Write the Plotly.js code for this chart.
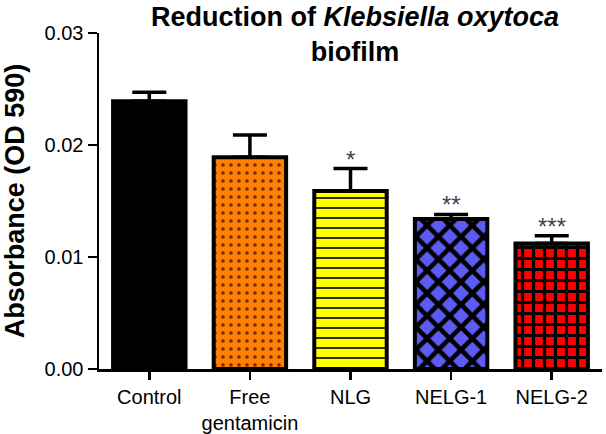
<!DOCTYPE html>
<html>
<head>
<meta charset="utf-8">
<script src="https://cdn.plot.ly/plotly-3.0.1.min.js"></script>
<style>html,body{margin:0;padding:0;background:#fff}#chart{width:606px;height:434px}</style>
</head>
<body>
<div id="chart"></div>
<script>
const categories = ["Control", "Free<br>gentamicin", "NLG", "NELG-1", "NELG-2"];
const absorbance = [0.0239, 0.0189, 0.0159, 0.0134, 0.0112];
const errorUp = [0.0008, 0.0020, 0.0020, 0.0004, 0.0007];
const significance = ["", "", "*", "**", "***"];
const yTicks = [0, 0.01, 0.02, 0.03];
const yTickLabels = ["0.00", "0.01", "0.02", "0.03"];

const fillColors = ["#000000", "#ff8000", "#ffff00", "#5c5cf5", "#ff0000"];
const patternShapes = ["", ".", "-", "x", "+"];
const patternFg = ["#000000", "#6b2a00", "#000000", "#000000", "#000000"];
const patternSize = [8, 8, 10, 16, 11];
const patternSolidity = [0.3, 0.16, 0.16, 0.5, 0.5];

const font = "Liberation Sans, Arial, Helvetica, sans-serif";

const traces = categories.map((c, i) => ({
  type: "bar",
  x: [c],
  y: [absorbance[i]],
  width: 0.72,
  marker: {
    color: fillColors[i],
    line: {color: "#000", width: 4},
    pattern: {
      shape: patternShapes[i],
      fgcolor: patternFg[i],
      fgopacity: 1,
      fillmode: "overlay",
      size: patternSize[i],
      solidity: patternSolidity[i]
    }
  },
  error_y: {
    type: "data",
    symmetric: false,
    array: [errorUp[i]],
    arrayminus: [0],
    color: "#000",
    thickness: 3.5,
    width: 17
  },
  hoverinfo: "skip"
}));

const annotations = significance.map((s, i) => ({
  x: categories[i],
  y: absorbance[i] + errorUp[i],
  xref: "x", yref: "y",
  text: s,
  showarrow: false,
  yanchor: "bottom",
  yshift: -6,
  font: {family: font, size: 24, color: "#444"}
})).filter(a => a.text);

annotations.push({
  text: "<b>Reduction of <i>Klebsiella oxytoca</i><br>biofilm</b>",
  xref: "paper", yref: "paper",
  x: (355 - 99) / 503, y: 1 + 33 / 336,
  xanchor: "center", yanchor: "top",
  showarrow: false,
  font: {family: font, size: 27, color: "#000"}
});

const layout = {
  width: 606, height: 434,
  margin: {l: 99, r: 4, t: 33, b: 65},
  paper_bgcolor: "#fff", plot_bgcolor: "#fff",
  showlegend: false,
  barmode: "overlay",
  font: {family: font, color: "#000"},
  xaxis: {
    type: "category",
    categoryorder: "array", categoryarray: categories,
    range: [-0.5, 4.5],
    showline: true, linecolor: "#000", linewidth: 2.5,
    ticks: "outside", ticklen: 8, tickwidth: 2.5, tickcolor: "#000",
    tickfont: {family: font, size: 20, color: "#000"},
    showgrid: false, zeroline: false, fixedrange: true
  },
  yaxis: {
    range: [0, 0.03],
    tickvals: yTicks, ticktext: yTickLabels,
    showline: true, linecolor: "#000", linewidth: 2.5,
    ticks: "outside", ticklen: 9, tickwidth: 2.5, tickcolor: "#000",
    tickfont: {family: font, size: 20, color: "#000"},
    showgrid: false, zeroline: false, fixedrange: true,
    title: {text: "<b>Absorbance (OD 590)</b>", font: {family: font, size: 27, color: "#000"}, standoff: 18}
  },
  annotations: annotations
};

Plotly.newPlot("chart", traces, layout, {staticPlot: true, displayModeBar: false});
</script>
</body>
</html>
